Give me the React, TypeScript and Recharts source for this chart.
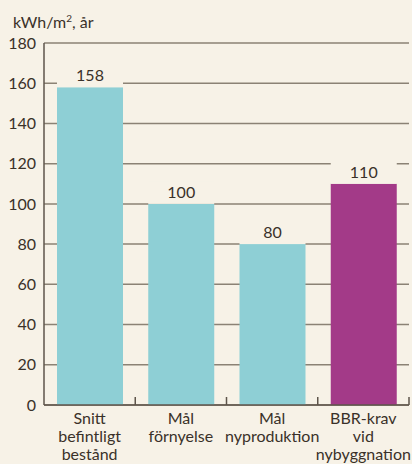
import React from "react"
import { BarChart, Bar, XAxis, YAxis, CartesianGrid, Cell, LabelList } from "recharts"

const categories = [
    ["Snitt", "befintligt", "bestånd"],
    ["Mål", "förnyelse"],
    ["Mål", "nyproduktion"],
    ["BBR-krav", "vid", "nybyggnation"],
]
const values = [158, 100, 80, 110]
const barColors = ["#8ecfd5", "#8ecfd5", "#8ecfd5", "#a33a88"]
const yTicks = [0, 20, 40, 60, 80, 100, 120, 140, 160, 180]

const data = categories.map((lines, i) => ({ name: lines.join("\n"), value: values[i], color: barColors[i] }))

const W = 412
const H = 464
const margin = { top: 43, right: 3, bottom: 0, left: 0 }
const yAxisWidth = 44
const band = (W - margin.left - margin.right - yAxisWidth) / categories.length

const bg = "#f7f2e7"
const ink = "#3a3129"
const font = "Lato, sans-serif"

const CategoryTick = (props: any) => {
    const { x, y, payload } = props
    const lines = String(payload.value).split("\n")
    return (
        <g>
            <line x1={x + band / 2} x2={x + band / 2} y1={y} y2={y - 8} stroke="#5e554b" strokeWidth={1.5} />
            <text x={x} y={y} textAnchor="middle" fill={ink} fontSize={16} fontFamily={font}>
                {lines.map((l, i) => (
                    <tspan key={i} x={x} y={y + 19 + i * 18}>{l}</tspan>
                ))}
            </text>
        </g>
    )
}

const ValueLabel = (props: any) => {
    const { x, y, width, value } = props
    return (
        <g>
            <rect x={x} y={y - 22} width={width} height={22} fill={bg} />
            <text x={x + width / 2} y={y - 6} textAnchor="middle" fill={ink} fontSize={16} fontFamily={font}>
                {value}
            </text>
        </g>
    )
}

export default function App() {
    return (
        <div style={{ position: "absolute", left: 0, top: 0, width: W, height: H, background: bg }}>
            <div
                style={{
                    position: "absolute",
                    left: 13,
                    top: 12,
                    fontFamily: font,
                    fontSize: 16,
                    color: ink,
                    lineHeight: "20px",
                }}
            >
                kWh/m<sup style={{ fontSize: 10, verticalAlign: "6px", lineHeight: 0 }}>2</sup>, år
            </div>
            <BarChart width={W} height={H} data={data} margin={margin} barSize={66}>
                <CartesianGrid vertical={false} stroke="#8b8275" strokeWidth={1.5} />
                <XAxis
                    dataKey="name"
                    height={59}
                    interval={0}
                    tickLine={false}
                    tickSize={0}
                    tickMargin={0}
                    axisLine={{ stroke: "#5e554b", strokeWidth: 1.5 }}
                    tick={<CategoryTick />}
                />
                <YAxis
                    width={yAxisWidth}
                    domain={[0, 180]}
                    ticks={yTicks}
                    interval={0}
                    tickLine={false}
                    axisLine={{ stroke: "#5e554b", strokeWidth: 1.5 }}
                    tick={{ fill: ink, fontSize: 16, fontFamily: font }}
                />
                <Bar dataKey="value" isAnimationActive={false}>
                    {data.map((d, i) => (
                        <Cell key={i} fill={d.color} />
                    ))}
                    <LabelList dataKey="value" content={<ValueLabel />} />
                </Bar>
            </BarChart>
        </div>
    )
}
